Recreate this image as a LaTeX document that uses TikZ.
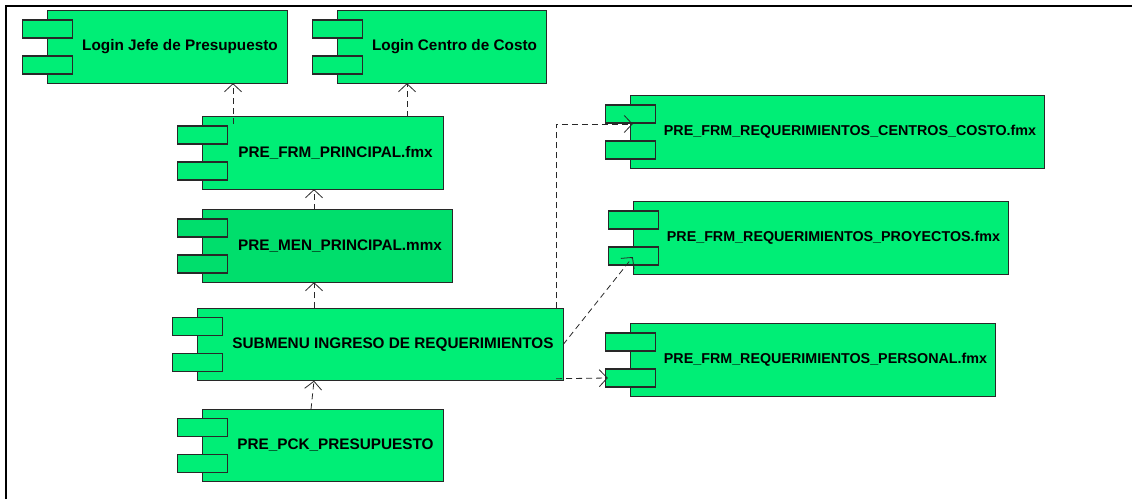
\documentclass[tikz,border=0pt]{standalone}
\usepackage{fontspec}
\setmainfont{Liberation Sans}
\usepackage{xcolor}
\usepackage{tikz}
\usetikzlibrary{arrows.meta}
\pgfdeclarelayer{bg}
\pgfsetlayers{bg,main}
\definecolor{compgreen}{RGB}{0,238,118}
\definecolor{compdark}{RGB}{0,222,108}
\definecolor{linegray}{RGB}{40,40,40}
\tikzset{
	comp/.style={minimum width=#1, minimum height=72, inner sep=0pt, font=\fontsize{15.3}{18}\selectfont\bfseries},
	formfont/.style={font=\fontsize{14.3}{17}\selectfont\bfseries},
	compbox/.style={draw=linegray, fill=#1, line width=1.2pt},
	dep/.style={draw=linegray, line width=0.8pt, dash pattern=on 6pt off 4pt, ->, >={Straight Barb[length=8pt,width=17pt]}}
}
\begin{document}
\begin{tikzpicture}[x=1pt, y=1pt]
			\useasboundingbox (0,0) rectangle (1132,499);
			\draw[line width=2pt] (6.3,0) |- (1132,493.3);

			\node[comp=214] (lj) at (180,452) {Login Jefe de Presupuesto};
			\node[comp=183] (lc) at (454.5,452) {Login Centro de Costo};
			\node[comp=215] (fp) at (335.5,346) {PRE\_FRM\_PRINCIPAL.fmx};
			\node[comp=224] (mp) at (340,253) {PRE\_MEN\_PRINCIPAL.mmx};
			\node[comp=340] (sub) at (393,154.5) {SUBMENU INGRESO DE REQUERIMIENTOS};
			\node[comp=215] (pck) at (335.5,53.5) {PRE\_PCK\_PRESUPUESTO};
			\node[comp=388, formfont] (cc) at (850,367) {PRE\_FRM\_REQUERIMIENTOS\_CENTROS\_COSTO.fmx};
			\node[comp=349, formfont] (pr) at (833.5,261) {PRE\_FRM\_REQUERIMIENTOS\_PROYECTOS.fmx};
			\node[comp=339, formfont] (ps) at (825.5,139) {PRE\_FRM\_REQUERIMIENTOS\_PERSONAL.fmx};

			\foreach \n/\c in {lj/compgreen, lc/compgreen, fp/compgreen, mp/compdark, sub/compgreen, pck/compgreen, cc/compgreen, pr/compgreen, ps/compgreen} {
				\begin{pgfonlayer}{bg}
					\draw[compbox=\c] ([xshift=-25pt]\n.north west) rectangle (\n.south east);
				\end{pgfonlayer}
				\draw[compbox=\c] ([xshift=-50pt,yshift=9pt]\n.west) rectangle ([yshift=27pt]\n.west);
				\draw[compbox=\c] ([xshift=-50pt,yshift=-27pt]\n.west) rectangle ([yshift=-9pt]\n.west);
			}

			\draw[dep] ([xshift=-102.5pt,yshift=-7pt]fp.north) -- ([xshift=53pt]lj.south);
			\draw[dep] ([xshift=71.5pt]fp.north) -- ([xshift=-47.5pt]lc.south);
			\draw[dep] ([xshift=-26pt]mp.north) -- ([xshift=-21.5pt]fp.south);
			\draw[dep] ([xshift=-79pt]sub.north) -- ([xshift=-26pt]mp.south);
			\draw[dep] ([xshift=-24.5pt]pck.north) -- ([xshift=-79pt]sub.south);
			\draw[dep] ([xshift=-7pt]sub.north east) |- ([xshift=-23pt,yshift=8pt]cc.west);
			\draw[dep] (sub.east) -- ([xshift=-26pt,yshift=-19pt]pr.west);
			\draw[dep] ([xshift=-7pt,yshift=2pt]sub.south east) -- ([xshift=-48pt,yshift=-18pt]ps.west);
		\end{tikzpicture}
\end{document}
